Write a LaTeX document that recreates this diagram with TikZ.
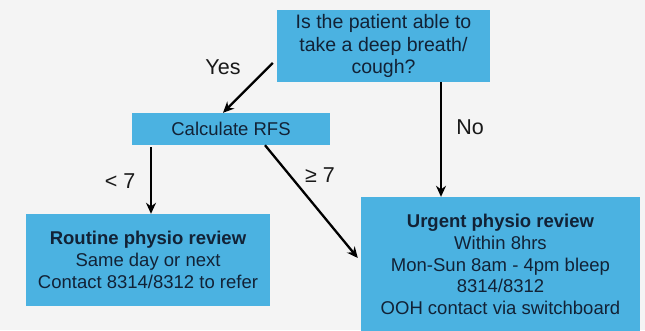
\documentclass[tikz,border=0pt]{standalone}
\usepackage{fontspec}
\setmainfont{Liberation Sans}
\usetikzlibrary{arrows.meta}
\definecolor{boxblue}{RGB}{75,178,225}
\definecolor{bggrey}{RGB}{244,244,244}
\definecolor{inkblue}{RGB}{18,34,54}
\begin{document}
\begin{tikzpicture}[x=1bp,y=1bp,
  main_node/.style={rectangle,fill=boxblue,text=inkblue,align=center,inner sep=0pt,font=\fontsize{18.5bp}{21.7bp}\selectfont},
  label_node/.style={text=black!90,inner sep=1pt,font=\fontsize{21.5bp}{24bp}\selectfont},
  arrow_line/.style={line width=2.3bp,-{Stealth[length=11bp,width=10bp]}}]
    \fill[bggrey] (0,0) rectangle (645,330);
    \useasboundingbox (0,0) rectangle (645,330);

    \node[main_node,minimum width=213bp,minimum height=72bp,font=\fontsize{19.5bp}{22.5bp}\selectfont] (1) at (383.5,284) {Is the patient able to\\take a deep breath/\\cough?};
    \node[main_node,minimum width=198bp,minimum height=32bp] (2) at (231,201) {Calculate RFS};
    \node[main_node,minimum width=244bp,minimum height=92bp] (3) at (148,70) {\textbf{Routine physio review}\\Same day or next\\Contact 8314/8312 to refer};
    \node[main_node,minimum width=279bp,minimum height=135bp] (4) at (500.5,65.5) {\textbf{Urgent physio review}\\Within 8hrs\\Mon-Sun 8am - 4pm bleep\\8314/8312\\OOH contact via switchboard};

    \node[label_node] (5) at (223,263) {Yes};
    \node[label_node] (6) at (470,203) {No};
    \node[label_node] (7) at (120,149) {< 7};
    \node[label_node] (8) at (320,155) {≥ 7};

    \draw[arrow_line] ([shift={(-4bp,-17bp)}]1.west) -- ([xshift=-8bp]2.north);
    \draw[arrow_line] ([xshift=57.5bp]1.south) -- ([xshift=57.5bp]1.south |- 4.north);
    \draw[arrow_line] ([xshift=3bp,yshift=-2bp]3.north |- 2.south) -- ([xshift=3bp]3.north);
    \draw[arrow_line] ([xshift=34bp]2.south) -- ([shift={(-3bp,6.5bp)}]4.west);

\end{tikzpicture}
\end{document}
